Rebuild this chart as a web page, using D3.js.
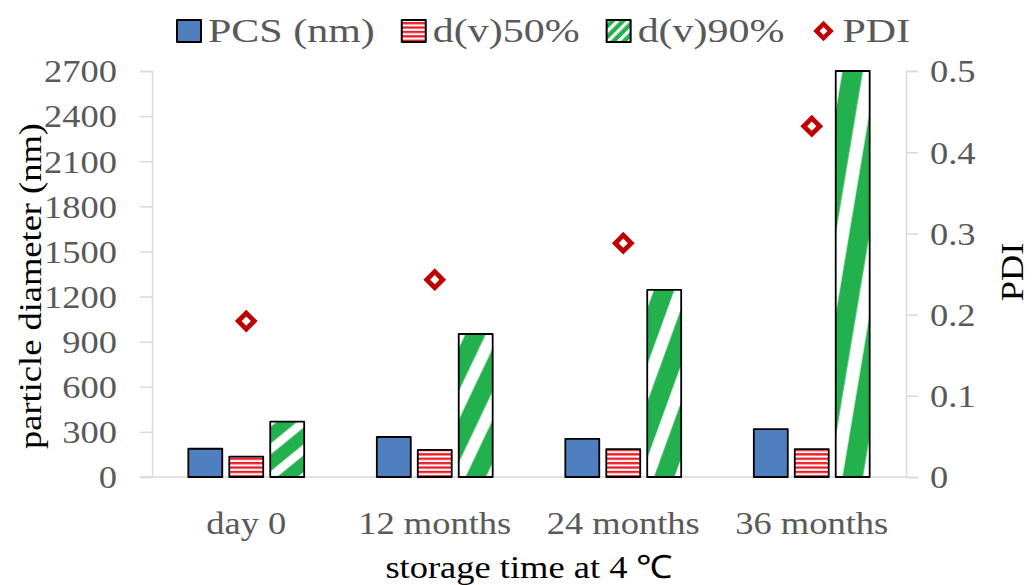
<!DOCTYPE html>
<html>
<head>
<meta charset="utf-8">
<script src="https://cdn.jsdelivr.net/npm/d3@7"></script>
<style>
  html, body { margin: 0; padding: 0; background: #ffffff; }
  svg { display: block; }
  text { font-family: "Liberation Serif", "Times New Roman", serif; }
</style>
</head>
<body>
<svg id="chart" width="1035" height="585"></svg>
<script>
// Storage stability of particle size: diameters (left axis) and PDI (right axis)
const categories = ["day 0", "12 months", "24 months", "36 months"];
const seriesNames = ["PCS (nm)", "d(v)50%", "d(v)90%"];
const pcsValues = [188, 266, 253, 319];
const d50Values = [135, 180, 186, 186];
const d90Values = [368, 951, 1244, 2700];
const pdiValues = [0.192, 0.243, 0.288, 0.432];
const leftTicks = [0, 300, 600, 900, 1200, 1500, 1800, 2100, 2400, 2700];
const rightTicks = [0, 0.1, 0.2, 0.3, 0.4, 0.5];
const rightTickLabels = ["0", "0.1", "0.2", "0.3", "0.4", "0.5"];
const legendNames = ["PCS (nm)", "d(v)50%", "d(v)90%", "PDI"];

const svg = d3.select("#chart");
const plot = { left: 152, right: 906, top: 71, bottom: 477 };

const axisColor = "#d9d9d9";
const labelColor = "#595959";
const blue = "#4f7fbf";
const red = "#ee1c25";
const green = "#22b14c";
const pdiRed = "#c00000";

const tickFont = 32, tickStretch = 1.14;
const legendFont = 34, legendStretch = 1.235;

// ---------- patterns ----------
const defs = svg.append("defs");

// horizontal red/white stripes
const pRed = defs.append("pattern")
  .attr("id", "redStripes")
  .attr("patternUnits", "userSpaceOnUse")
  .attr("width", 10).attr("height", 4.4);
pRed.append("rect").attr("width", 10).attr("height", 4.4).attr("fill", "#ffffff");
pRed.append("rect").attr("y", 0).attr("width", 10).attr("height", 2.3).attr("fill", red);

// diagonal green/white stripes, stretched with each bar
const pGreen = defs.append("pattern")
  .attr("id", "greenStripes")
  .attr("patternUnits", "objectBoundingBox")
  .attr("patternContentUnits", "objectBoundingBox")
  .attr("width", 1).attr("height", 0.5);
pGreen.append("rect").attr("width", 1).attr("height", 0.5).attr("fill", green);
const band = 0.2;
[-1, 0, 1].forEach(k => {
  const dy = k * 0.5;
  pGreen.append("polygon")
    .attr("fill", "#ffffff")
    .attr("points", [
      [0, 0.5 + dy - band / 2], [1, dy - band / 2],
      [1, dy + band / 2], [0, 0.5 + dy + band / 2]
    ].map(p => p.join(",")).join(" "));
});

// fixed diagonal stripes for the legend swatch
const pGreenKey = defs.append("pattern")
  .attr("id", "greenKey")
  .attr("patternUnits", "userSpaceOnUse")
  .attr("width", 7.5).attr("height", 7.5)
  .attr("patternTransform", "rotate(45)");
pGreenKey.append("rect").attr("width", 7.5).attr("height", 7.5).attr("fill", green);
pGreenKey.append("rect").attr("width", 3.2).attr("height", 7.5).attr("fill", "#ffffff");

const fills = ["", "url(#redStripes)", "url(#greenStripes)"];
fills[0] = blue;

// ---------- scales ----------
const x0 = d3.scaleBand().domain(categories).range([plot.left, plot.right]).padding(0);
const x1 = d3.scaleBand().domain(seriesNames).range([0, x0.bandwidth()])
  .paddingInner(0.171).paddingOuter(0.887);
const yL = d3.scaleLinear().domain([0, 2700]).range([plot.bottom, plot.top]);
const yR = d3.scaleLinear().domain([0, 0.5]).range([plot.bottom, plot.top]);

// ---------- axes ----------
const gLeft = svg.append("g").attr("transform", `translate(${plot.left},0)`)
  .call(d3.axisLeft(yL).tickValues(leftTicks).tickSize(12).tickPadding(23).tickFormat(d3.format("d")));
const gRight = svg.append("g").attr("transform", `translate(${plot.right},0)`)
  .call(d3.axisRight(yR).tickValues(rightTicks).tickSize(12).tickPadding(12)
    .tickFormat((d, i) => rightTickLabels[i]));

[gLeft, gRight].forEach(g => {
  g.select(".domain").attr("stroke", axisColor).attr("stroke-width", 1.5);
  g.selectAll(".tick line").attr("stroke", axisColor).attr("stroke-width", 1.5);
  g.selectAll(".tick text")
    .attr("fill", labelColor)
    .attr("font-size", tickFont)
    .attr("font-family", "Liberation Serif, Times New Roman, serif")
    .attr("dy", "0.34em")
    .each(function () {
      const t = d3.select(this);
      t.attr("x", +t.attr("x") / tickStretch)
       .attr("transform", `scale(${tickStretch},1)`);
    });
});

// category baseline
svg.append("line")
  .attr("x1", plot.left - 12).attr("x2", plot.right)
  .attr("y1", yL(0)).attr("y2", yL(0))
  .attr("stroke", axisColor).attr("stroke-width", 1.5);

// ---------- bars ----------
const barData = [];
categories.forEach((c, i) => {
  [pcsValues, d50Values, d90Values].forEach((vals, s) => {
    barData.push({ cat: c, series: seriesNames[s], s, value: vals[i] });
  });
});

svg.append("g").selectAll("rect")
  .data(barData)
  .join("rect")
  .attr("x", d => x0(d.cat) + x1(d.series))
  .attr("y", d => yL(d.value))
  .attr("width", x1.bandwidth())
  .attr("height", d => yL(0) - yL(d.value))
  .attr("fill", d => fills[d.s])
  .attr("stroke", "#000000")
  .attr("stroke-width", 1.8)
  .attr("stroke-linejoin", "round");

// ---------- PDI markers ----------
const diamond = d3.symbol().type(d3.symbolSquare).size(128);
svg.append("g").selectAll("path")
  .data(categories.map((c, i) => ({ cat: c, v: pdiValues[i] })))
  .join("path")
  .attr("d", diamond)
  .attr("transform", d => `translate(${x0(d.cat) + x0.bandwidth() / 2},${yR(d.v)}) rotate(45)`)
  .attr("fill", "#ffffff")
  .attr("stroke", pdiRed)
  .attr("stroke-width", 4.8);

// ---------- stretched text helper ----------
function stretchedText(parent, x, y, str, opts) {
  const g = parent.append("g").attr("transform", `translate(${x},${y}) rotate(${opts.rotate || 0})`);
  return g.append("text")
    .attr("transform", `scale(${opts.sx},1)`)
    .attr("text-anchor", opts.anchor || "start")
    .attr("font-size", opts.size)
    .attr("fill", opts.fill)
    .text(str);
}

// category labels
categories.forEach(c => {
  stretchedText(svg, x0(c) + x0.bandwidth() / 2, 534, c,
    { sx: tickStretch, size: tickFont, fill: labelColor, anchor: "middle" });
});

// axis titles
stretchedText(svg, (plot.left + plot.right) / 2, 578, "storage time at 4 \u2103",
  { sx: tickStretch, size: tickFont, fill: "#000000", anchor: "middle" });
stretchedText(svg, 41, 286, "particle diameter (nm)",
  { sx: tickStretch, size: tickFont, fill: "#000000", anchor: "middle", rotate: -90 });
stretchedText(svg, 1023, 272, "PDI",
  { sx: tickStretch, size: tickFont, fill: "#000000", anchor: "middle", rotate: -90 });

// ---------- legend ----------
const legend = svg.append("g");
const legendFills = [blue, "url(#redStripes)", "url(#greenKey)"];
let lx = 177;
const keyTop = 20, keyW = 24, keyH = 22, textBase = 42;
legendNames.forEach((name, i) => {
  if (i < 3) {
    legend.append("rect")
      .attr("x", lx).attr("y", keyTop).attr("width", keyW).attr("height", keyH)
      .attr("fill", legendFills[i]).attr("stroke", "#000000").attr("stroke-width", 2)
      .attr("stroke-linejoin", "round");
  } else {
    legend.append("path")
      .attr("d", d3.symbol().type(d3.symbolSquare).size(100))
      .attr("transform", `translate(${lx + 12},${keyTop + keyH / 2}) rotate(45)`)
      .attr("fill", "#ffffff").attr("stroke", pdiRed).attr("stroke-width", 4.5);
  }
  const tx = lx + 31;
  const t = stretchedText(legend, tx, textBase, name,
    { sx: legendStretch, size: legendFont, fill: labelColor });
  const w = t.node().getComputedTextLength() * legendStretch;
  lx = tx + w + 27;
});
</script>
</body>
</html>
